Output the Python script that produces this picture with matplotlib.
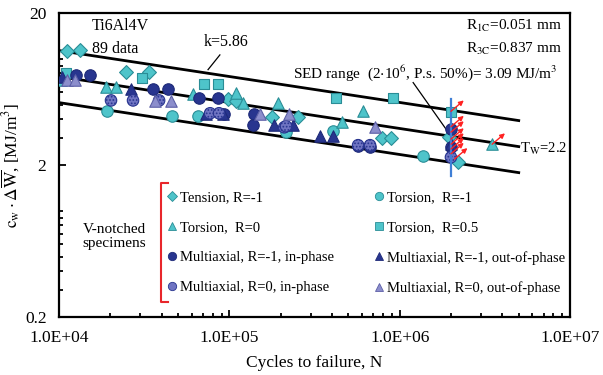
import numpy as np
import matplotlib
matplotlib.use('Agg')
import matplotlib.pyplot as plt
from matplotlib.ticker import LogLocator, FixedLocator, FuncFormatter, NullFormatter
from matplotlib.lines import Line2D

plt.rcParams['font.family'] = ['Liberation Serif', 'DejaVu Serif']
plt.rcParams['mathtext.fontset'] = 'stix'
plt.rcParams['hatch.color'] = 'white'
plt.rcParams['hatch.linewidth'] = 0.8

# ---------------- data ----------------
tension_N = [1.11e4, 1.33e4, 2.47e4, 3.38e4, 9.82e4, 1.09e5, 1.77e5, 2.53e5, 7.89e5, 8.91e5, 1.95e6, 2.20e6]
tension_W = [11.3, 11.5, 8.2, 8.2, 5.40, 5.24, 4.12, 4.12, 3.00, 3.00, 3.05, 2.09]

torsR1_N = [1.91e4, 4.61e4, 6.55e4, 2.15e5, 4.06e5, 1.37e6]
torsR1_W = [4.51, 4.18, 4.18, 3.29, 3.33, 2.29]

torsR0_N = [1.03e4, 1.89e4, 2.16e4, 6.12e4, 1.09e5, 1.20e5, 1.93e5, 6.09e5, 4.59e5, 3.49e6]
torsR0_W = [7.30, 6.47, 6.47, 5.82, 5.91, 5.08, 5.08, 4.51, 3.82, 2.74]

torsR05_N = [1.10e4, 3.07e4, 7.06e4, 8.53e4, 4.24e5, 9.15e5, 2.0e6]
torsR05_W = [8.0, 7.52, 6.87, 6.87, 5.48, 5.48, 4.44]

multR1in_N = [1.26e4, 1.52e4, 3.56e4, 4.37e4, 6.64e4, 8.53e4, 9.31e4, 1.40e5, 1.38e5, 5.70e5, 6.70e5, 2.0e6, 2.0e6]
multR1in_W = [7.87, 7.87, 6.37, 6.37, 5.56, 5.56, 4.31, 4.31, 3.65, 2.66, 2.62, 3.45, 2.62]

multR1out_N = [1.04e4, 2.65e4, 7.30e4, 9.18e4, 1.82e5, 2.38e5, 3.41e5, 4.06e5, 2.0e6]
multR1out_W = [7.64, 6.28, 4.31, 4.31, 3.65, 3.65, 3.10, 3.10, 2.75]

multR0in_N = [2.02e4, 2.72e4, 3.87e4, 7.71e4, 8.70e4, 2.10e5, 2.15e5, 5.70e5, 6.70e5, 2.0e6]
multR0in_W = [5.32, 5.32, 5.32, 4.38, 4.38, 3.54, 3.60, 2.70, 2.70, 2.25]

multR0out_N = [1.11e4, 1.24e4, 3.66e4, 4.55e4, 1.51e5, 2.24e5, 7.17e5]
multR0out_W = [7.30, 7.30, 5.24, 5.24, 4.31, 4.31, 3.54]

# run-outs (arrows)
runout_N = [2.0e6, 2.0e6, 2.0e6, 2.0e6, 2.0e6, 2.0e6, 2.0e6, 2.1e6, 3.49e6]
runout_W = [4.51, 3.57, 3.29, 2.96, 2.74, 2.55, 2.37, 2.19, 2.74]

# scatter band (k, Tw, reference value at 2e6 cycles)
k_slope = 5.86
T_w = 2.2
W_ref = 3.09
N_ref = 2.0e6
band_N = [1.0e4, 5.0e6]

x_ticks = [1e4, 1e5, 1e6, 1e7]
x_ticklabels = ['1.0E+04', '1.0E+05', '1.0E+06', '1.0E+07']
y_ticks = [0.2, 2, 20]
y_ticklabels = ['0.2', '2', '20']

# ---------------- styles ----------------
cyan = '#4EC4CA'
cyan_e = '#2A8D96'
dark = '#28358F'
dark_e = '#1E2A78'
hatchf = '#6F74C2'
purple = '#8C8ECC'
purple_e = '#5C5FA6'

fig = plt.figure(figsize=(6.03, 3.75), dpi=100)
ax = fig.add_axes([59/603, 1-317/375, (570-59)/603, (317-13)/375])
ax.set_xscale('log')
ax.set_yscale('log')
ax.set_xlim(1e4, 1e7)
ax.set_ylim(0.2, 20)

# band lines
bN = np.array(band_N)
Wc = W_ref * (bN / N_ref) ** (-1.0 / k_slope)
for f in [np.sqrt(T_w), 1.0, 1.0 / np.sqrt(T_w)]:
    ax.plot(bN, Wc * f, color='black', lw=2.0, zorder=2)

ms = 62
ax.scatter(tension_N, tension_W, marker='D', s=ms*0.8, c=cyan, edgecolors=cyan_e, linewidths=0.8, zorder=3)
ax.scatter(torsR1_N, torsR1_W, marker='o', s=ms*1.1, c=cyan, edgecolors=cyan_e, linewidths=0.8, zorder=3)
ax.scatter(torsR0_N, torsR0_W, marker='^', s=ms*1.1, c=cyan, edgecolors=cyan_e, linewidths=0.8, zorder=3)
ax.scatter(torsR05_N, torsR05_W, marker='s', s=ms*0.9, c=cyan, edgecolors=cyan_e, linewidths=0.8, zorder=3)
ax.scatter(multR1in_N, multR1in_W, marker='o', s=ms*1.1, c=dark, edgecolors=dark_e, linewidths=0.8, zorder=3)
ax.scatter(multR1out_N, multR1out_W, marker='^', s=ms*1.1, c=dark, edgecolors=dark_e, linewidths=0.8, zorder=3)
ax.scatter(multR0in_N, multR0in_W, marker='o', s=ms*1.1, c=hatchf, edgecolors=dark, linewidths=0.8, hatch='.....', zorder=3)
ax.scatter(multR0out_N, multR0out_W, marker='^', s=ms*1.1, c=purple, edgecolors=purple_e, linewidths=0.8, zorder=3)

# vertical line at 2e6 (run-outs)
ax.plot([N_ref, N_ref], [1.69, 5.40], color='#3F7FD6', lw=1.6, zorder=4)
for n, w in zip(runout_N, runout_W):
    ax.annotate('', xy=(n * 1.19, w * 1.18), xytext=(n, w),
                arrowprops=dict(arrowstyle='-|>', color='#FF2222', lw=1.0,
                                mutation_scale=7, shrinkA=0, shrinkB=0), zorder=5)

# texts
fs = 11
ax.text(0.064, 0.957, 'Ti6Al4V', transform=ax.transAxes, fontsize=11.5, va='center', ha='left')
ax.text(0.064, 0.882, '89 data', transform=ax.transAxes, fontsize=11.5, va='center', ha='left')
ax.text(0.284, 0.905, 'k=5.86', transform=ax.transAxes, fontsize=11.5, va='center', ha='left')
ax.plot([7.5e4, 8.8e4], [8.48, 10.6], color='black', lw=0.9, zorder=2)
ax.text(0.984, 0.957, r'R$_{\mathrm{1C}}$=0.051 mm', transform=ax.transAxes, fontsize=fs, va='center', ha='right')
ax.text(0.984, 0.882, r'R$_{\mathrm{3C}}$=0.837 mm', transform=ax.transAxes, fontsize=fs, va='center', ha='right')
ax.text(0.458, 0.803, r'SED range  (2$\cdot$10$^{6}$, P.s. 50%)= 3.09 MJ/m$^{3}$',
        transform=ax.transAxes, fontsize=fs, va='center', ha='left')
ax.plot([1.20e6, 1.96e6], [6.97, 3.2], color='black', lw=0.9, zorder=2)
ax.text(0.902, 0.552, r'T$_{\mathrm{W}}$=2.2', transform=ax.transAxes, fontsize=10.5, va='center', ha='left')

ax.text(0.108, 0.266, 'V-notched\nspecimens', transform=ax.transAxes, fontsize=11,
        va='center', ha='center', linespacing=1.1)
# red bracket
bx0, bx1 = (161 - 59) / 511, (168 - 59) / 511
by0, by1 = (317 - 302) / 304, (317 - 183) / 304
ax.plot([bx1, bx0, bx0, bx1], [by1, by1, by0, by0], color='#E8262B', lw=1.5,
        transform=ax.transAxes, clip_on=False, zorder=6)

# legend
def h(marker, fc, ec, size=6):
    return Line2D([], [], linestyle='none', marker=marker, markerfacecolor=fc,
                  markeredgecolor=ec, markersize=size, markeredgewidth=0.6)

handles = [h('D', cyan, cyan_e, size=5), h('^', cyan, cyan_e), h('o', dark, dark_e), h('o', hatchf, dark),
           h('o', cyan, cyan_e), h('s', cyan, cyan_e, size=5.5), h('^', dark, dark_e), h('^', purple, purple_e)]
labels = ['Tension, R=-1', 'Torsion,  R=0', 'Multiaxial, R=-1, in-phase', 'Multiaxial, R=0, in-phase',
          'Torsion,  R=-1', 'Torsion,  R=0.5', 'Multiaxial, R=-1, out-of-phase', 'Multiaxial, R=0, out-of-phase']
leg = ax.legend(handles, labels, ncol=2, loc='upper left', bbox_to_anchor=(0.2125, 0.414),
                frameon=False, fontsize=10.5, handlelength=0.6, handletextpad=0.25,
                columnspacing=2.8, labelspacing=1.14, borderpad=0, borderaxespad=0)

# axes style
for s in ax.spines.values():
    s.set_linewidth(1.6)
ax.xaxis.set_major_locator(FixedLocator(x_ticks))
ax.xaxis.set_major_formatter(FuncFormatter(lambda v, p: x_ticklabels[x_ticks.index(v)] if v in x_ticks else ''))
ax.xaxis.set_minor_locator(LogLocator(base=10, subs=np.arange(2, 10)))
ax.xaxis.set_minor_formatter(NullFormatter())
ax.yaxis.set_major_locator(FixedLocator(y_ticks))
ax.set_yticklabels(y_ticklabels)
ax.yaxis.set_minor_locator(LogLocator(base=10, subs=np.arange(1, 10)))
ax.yaxis.set_minor_formatter(NullFormatter())
ax.tick_params(which='both', direction='in', top=False, right=False, width=1.3, labelsize=12.5)
ax.tick_params(which='major', length=5, pad=9)
ax.tick_params(which='minor', length=3)

ax.set_xlabel('Cycles to failure, N', fontsize=12.5, labelpad=7)
ax.set_ylabel(r'$\mathrm{c_w}\cdot\Delta\overline{\mathrm{W}}$, [MJ/m$^3$]', fontsize=12.5, labelpad=2)

fig.savefig('out.png', dpi=100)
